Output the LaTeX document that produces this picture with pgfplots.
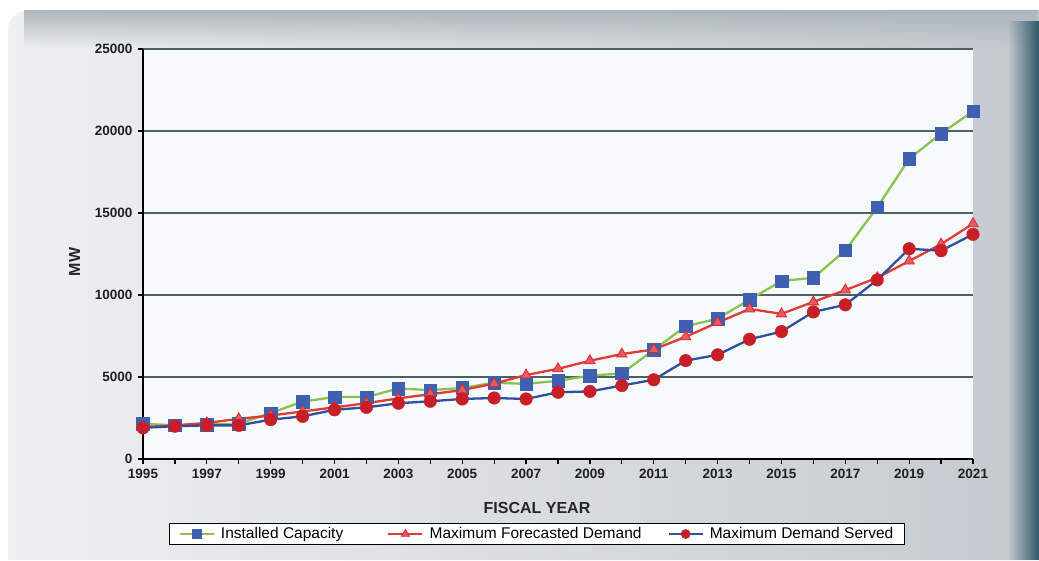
\documentclass[border=0pt]{standalone}
\usepackage{fontspec}
\setmainfont{Liberation Sans}
\usepackage{pgfplots}
\pgfplotsset{compat=1.18}
\usetikzlibrary{fadings}

% series colours: line and marker differ for each series
\definecolor{capline}{HTML}{8CC152}
\definecolor{capmark}{HTML}{3F5FB0}
\definecolor{fcline}{HTML}{E23A36}
\definecolor{fcfill}{HTML}{E85A60}
\definecolor{fcmark}{HTML}{D62A30}
\definecolor{srvline}{HTML}{2F4F9F}
\definecolor{srvmark}{HTML}{C81E28}
\definecolor{gridc}{HTML}{4D6163}
\definecolor{plotbg}{HTML}{F7FAFB}
\definecolor{bgL}{HTML}{EEF0F2}
\definecolor{bgR}{HTML}{C4CACF}
\definecolor{bandc}{HTML}{AEB6BB}
\definecolor{edgec}{HTML}{2E5869}

\tikzfading[name=fadetop, top color=transparent!0, bottom color=transparent!100]
\tikzfading[name=faderight, left color=transparent!100, right color=transparent!0]

% fiscal year, installed capacity, maximum forecasted demand, maximum demand served (MW)
\pgfplotstableread{
year cap   fc    srv
1995 2150  1950  1900
1996 2050  2050  2000
1997 2100  2200  2050
1998 2150  2450  2050
1999 2800  2650  2400
2000 3500  2900  2600
2001 3780  3150  3000
2002 3780  3400  3150
2003 4300  3700  3400
2004 4200  3950  3520
2005 4330  4200  3660
2006 4650  4600  3720
2007 4580  5120  3660
2008 4770  5500  4070
2009 5080  5990  4120
2010 5220  6400  4480
2011 6650  6680  4830
2012 8100  7450  6000
2013 8550  8320  6350
2014 9720  9150  7300
2015 10850 8850  7770
2016 11050 9580  8970
2017 12720 10300 9400
2018 15350 11050 10920
2019 18300 12070 12820
2020 19850 13100 12700
2021 21200 14350 13700
}\mwdata

\begin{document}
\begin{tikzpicture}[x=1pt,y=1pt]
% panel
\path[use as bounding box] (0,0) rectangle (1039,560);
\fill[white] (0,0) rectangle (1039,560);
\shade[left color=bgL, right color=bgR]
  (8,0) -- (8,530) to[out=90,in=180] (30,550) -- (1039,550) -- (1039,0) -- cycle;
\fill[bandc, path fading=fadetop] (24,512) rectangle (1039,550);
\fill[edgec, path fading=faderight] (1008,0) rectangle (1039,540);

\begin{axis}[
  at={(143pt,101pt)}, anchor=south west,
  width=830pt, height=410pt, scale only axis,
  xmin=1995, xmax=2021, ymin=0, ymax=25000,
  clip=false,
  axis background/.style={fill=plotbg},
  axis x line*=bottom, axis y line*=left,
  axis line style={black, line width=1.3pt},
  xtick={1995,1997,...,2021},
  minor xtick={1996,1998,...,2020},
  ytick={0,5000,...,25000},
  scaled y ticks=false,
  tick align=outside,
  major tick length=5pt, minor tick length=5pt,
  every tick/.style={black, line width=1.2pt},
  ymajorgrids,
  grid style={gridc, line width=1.4pt},
  ticklabel style={font=\bfseries\fontsize{13.5}{15}\selectfont, text=black!88},
  xticklabel style={yshift=-2pt},
  yticklabel style={xshift=-2pt},
  /pgf/number format/1000 sep={},
  /pgf/number format/assume math mode=true,
  xlabel={FISCAL YEAR},
  xlabel style={at={(axis description cs:0.4747,-0.119)}, anchor=center,
    font=\bfseries\fontsize{16}{18}\selectfont, text=black!85},
  ylabel={MW},
  ylabel style={at={(axis description cs:-0.0823,0.4805)}, anchor=center,
    font=\bfseries\fontsize{16}{18}\selectfont, text=black!85},
  legend columns=3,
  legend style={at={(axis description cs:0.4747,-0.183)}, anchor=center,
    draw=black, line width=1.2pt, fill=white,
    font=\fontsize{15.5}{17}\selectfont,
    inner xsep=9pt, inner ysep=2pt,
    /tikz/every odd column/.append style={column sep=4pt},
    /tikz/every even column/.append style={column sep=0pt}},
  legend image code/.code={%
    \draw[mark repeat=2, mark phase=2, #1, mark size=4.6pt]
      plot coordinates {(0pt,0pt) (17pt,0pt) (34pt,0pt)};},
]
\addplot[capline, line width=2.3pt, mark=square*, mark size=6.3pt,
  mark options={fill=capmark, draw=capmark, line width=0.4pt}]
  table[x=year, y=cap] {\mwdata};
\addlegendentry{Installed Capacity\hspace*{42pt}}
\addplot[fcline, line width=2.3pt, mark=triangle*, mark size=6pt,
  mark options={fill=fcfill, draw=fcmark, line width=0.8pt}]
  table[x=year, y=fc] {\mwdata};
\addlegendentry{Maximum Forecasted Demand\hspace*{24pt}}
\addplot[srvline, line width=2.3pt, mark=*, mark size=6.3pt,
  mark options={fill=srvmark, draw=srvmark, line width=0.4pt}]
  table[x=year, y=srv] {\mwdata};
\addlegendentry{Maximum Demand Served}
\end{axis}
\end{tikzpicture}
\end{document}
